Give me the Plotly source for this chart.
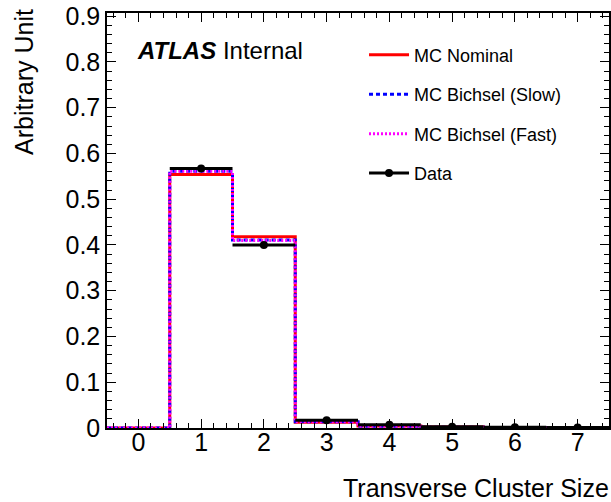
import plotly.graph_objects as go

bins = [0, 1, 2, 3, 4, 5, 6, 7]
mc_nominal = [0.0, 0.554, 0.418, 0.0125, 0.0045, 0.002, 0.001, 0.0005]
mc_slow = [0.0, 0.561, 0.411, 0.0135, 0.004, 0.0018, 0.0008, 0.0004]
mc_fast = [0.0, 0.561, 0.410, 0.0135, 0.004, 0.0018, 0.0008, 0.0004]
data_bins = [1, 2, 3, 4, 5, 6, 7]
data_vals = [0.567, 0.400, 0.017, 0.007, 0.003, 0.0015, 0.001]
y_ticks = [0, 0.1, 0.2, 0.3, 0.4, 0.5, 0.6, 0.7, 0.8, 0.9]
y_ticktext = ["0", "0.1", "0.2", "0.3", "0.4", "0.5", "0.6", "0.7", "0.8", "0.9"]

FONT = "Liberation Sans"


def step_xy(b, v):
    xs = [b[0] - 0.5] + [c + 0.5 for c in b]
    ys = list(v) + [v[-1]]
    return xs, ys


fig = go.Figure()
series = [
    ("MC Nominal", mc_nominal, dict(color="#ff0000", width=3, dash="solid")),
    ("MC Bichsel (Slow)", mc_slow, dict(color="#0000ff", width=3, dash="4px,3px")),
    ("MC Bichsel (Fast)", mc_fast, dict(color="#ff00ff", width=3, dash="2px,2px")),
]
for i, (name, vals, ln) in enumerate(series):
    xs, ys = step_xy(bins, vals)
    fig.add_trace(go.Scatter(x=xs, y=ys, mode="lines", line_shape="hv", line=ln,
                             name=name, legendgroup=f"g{i}"))

# data: horizontal bars across bin width with marker at centre
dx, dy = [], []
for c, v in zip(data_bins, data_vals):
    dx += [c - 0.5, c + 0.5, None]
    dy += [v, v, None]
fig.add_trace(go.Scatter(x=dx, y=dy, mode="lines", line=dict(color="black", width=3),
                         showlegend=False, legendgroup="g3", hoverinfo="skip"))
fig.add_trace(go.Scatter(x=data_bins, y=data_vals, mode="markers",
                         marker=dict(color="black", size=8),
                         name="Data", legendgroup="g3", showlegend=False))
# legend entry for data
fig.add_trace(go.Scatter(x=[None], y=[None], mode="lines+markers",
                         line=dict(color="black", width=3), marker=dict(color="black", size=8),
                         name="Data", legendgroup="g3"))

axis_common = dict(showline=True, linecolor="black", linewidth=1.5, mirror="allticks",
                   ticks="inside", tickcolor="black", tickwidth=1, ticklen=9,
                   showgrid=False, zeroline=False, ticklabeloverflow="allow",
                   automargin=False,
                   tickfont=dict(family=FONT, size=25, color="black"))

fig.update_xaxes(range=[-0.5, 7.5], tickmode="array", tickvals=bins,
                 ticktext=[str(b) for b in bins], ticklabelstandoff=-9,
                 minor=dict(dtick=0.2, tick0=0, ticks="inside", ticklen=5, tickcolor="black", showgrid=False),
                 **axis_common)
fig.update_yaxes(range=[0, 0.907], tickmode="array", tickvals=y_ticks, ticktext=y_ticktext,
                 minor=dict(dtick=0.02, tick0=0, ticks="inside", ticklen=5, tickcolor="black", showgrid=False),
                 **axis_common)

fig.update_layout(
    width=611, height=502,
    margin=dict(l=107, r=2, t=13, b=74),
    paper_bgcolor="white", plot_bgcolor="white",
    font=dict(family=FONT, color="black"),
    legend=dict(x=0.512, y=0.943, xanchor="left", yanchor="top",
                bgcolor="rgba(0,0,0,0)", tracegroupgap=13,
                font=dict(family=FONT, size=18, color="black"), itemwidth=40),
    annotations=[
        dict(text="<b><i>ATLAS</i></b> Internal", x=0.056, y=0.91, xref="paper", yref="paper",
             xanchor="left", yanchor="middle", showarrow=False,
             font=dict(family=FONT, size=24, color="black")),
        dict(text="Transverse Cluster Size", x=1.004, y=-0.145, xref="paper", yref="paper",
             xanchor="right", yanchor="middle", showarrow=False,
             font=dict(family=FONT, size=25, color="black")),
        dict(text="Arbitrary Unit", x=-0.165, y=1.015, xref="paper", yref="paper",
             xanchor="center", yanchor="top", textangle=-90, showarrow=False,
             font=dict(family=FONT, size=25, color="black")),
    ],
)

fig.write_html("out.html")
